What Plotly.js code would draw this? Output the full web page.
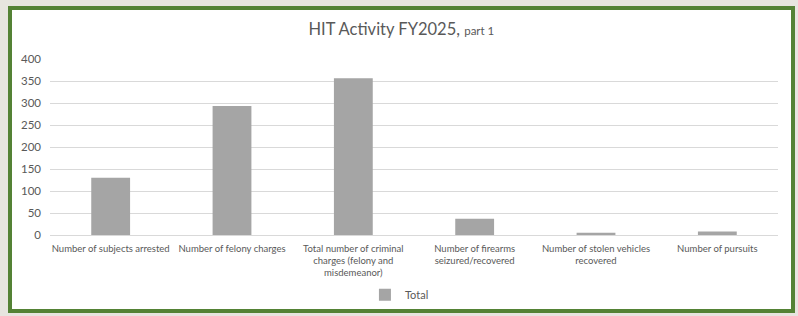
<!DOCTYPE html>
<html>
<head>
<meta charset="utf-8">
<script src="https://cdn.plot.ly/plotly-3.0.1.min.js"></script>
<style>
html,body{margin:0;padding:0;background:#e7e5df;width:798px;height:316px;overflow:hidden;}
#frame{position:absolute;left:8px;top:6px;width:779px;height:299px;border:4px solid #548235;background:#ffffff;}
#chart{position:absolute;left:0;top:0;width:798px;height:316px;}
</style>
</head>
<body>
<div id="frame"></div>
<div id="chart"></div>
<script>
const categories = [
  "Number of subjects arrested",
  "Number of felony charges",
  "Total number of criminal<br>charges (felony and<br>misdemeanor)",
  "Number of firearms<br>seizured/recovered",
  "Number of stolen vehicles<br>recovered",
  "Number of pursuits"
];
const totals = [130, 293, 356, 37, 5, 8];
const seriesName = "Total";
const yTicks = [0, 50, 100, 150, 200, 250, 300, 350, 400];

const font = "Lato, 'Open Sans', sans-serif";
const trace = {
  type: "bar",
  x: categories,
  y: totals,
  name: seriesName,
  marker: {color: "#a5a5a5"},
  width: 0.32,
  showlegend: true,
  hoverinfo: "x+y"
};
const layout = {
  width: 798, height: 316,
  paper_bgcolor: "rgba(0,0,0,0)",
  plot_bgcolor: "rgba(0,0,0,0)",
  margin: {l: 50, r: 20, t: 59, b: 81, autoexpand: false},
  font: {family: font, color: "#595959"},
  title: {
    text: "HIT Activity FY2025, <span style='font-size:11.5px'>part 1</span>",
    font: {family: font, size: 16.5, color: "#595959"},
    x: 0.503, xanchor: "center", xref: "container",
    y: 31, yref: "container", yanchor: "middle"
  },
  xaxis: {
    type: "category",
    automargin: false,
    tickfont: {family: font, size: 9.5, color: "#595959"},
    showgrid: false,
    showline: false,
    ticks: "",
    ticklabelstandoff: 6,
    tickangle: 0
  },
  yaxis: {
    range: [0, 400],
    automargin: false,
    tickvals: yTicks,
    ticktext: yTicks.map(String),
    tickfont: {family: font, size: 11.5, color: "#595959"},
    gridcolor: "#d9d9d9",
    gridwidth: 1,
    zeroline: true,
    zerolinecolor: "#d9d9d9",
    zerolinewidth: 1,
    showline: false,
    ticks: "",
    ticklabelstandoff: 8
  },
  legend: {
    orientation: "h",
    x: 0.48, xanchor: "center",
    y: -0.34, yanchor: "middle",
    itemwidth: 30,
    font: {family: font, size: 11, color: "#595959"},
    bgcolor: "rgba(0,0,0,0)"
  },
  showlegend: true
};
Plotly.newPlot("chart", [trace], layout, {displayModeBar: false, staticPlot: true});
</script>
</body>
</html>
